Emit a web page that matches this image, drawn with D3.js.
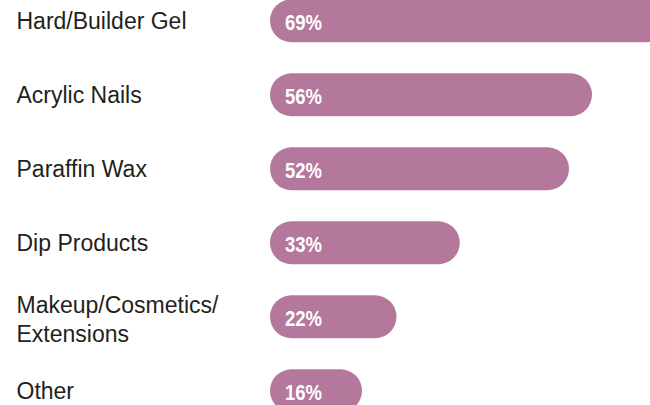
<!DOCTYPE html>
<html>
<head>
<meta charset="utf-8">
<script src="https://cdn.jsdelivr.net/npm/d3@7"></script>
<style>
  body { margin: 0; background: #fff; }
  svg { display: block; }
</style>
</head>
<body>
<svg id="chart"></svg>
<script>
// categories (label lines) and percentages
var categories = [
  ["Hard/Builder Gel"],
  ["Acrylic Nails"],
  ["Paraffin Wax"],
  ["Dip Products"],
  ["Makeup/Cosmetics/", "Extensions"],
  ["Other"]
];
var values = [69, 56, 52, 33, 22, 16];
var valueLabels = ["69%", "56%", "52%", "33%", "22%", "16%"];

function drawBars(width, height) {
  var svg = d3.select("#chart")
              .attr("width", width)
              .attr("height", height);

  var idx = d3.range(values.length);

  var y = d3.scaleBand()
            .domain(idx)
            .range([-0.7, 412.2])
            .paddingInner(0.42)
            .paddingOuter(0);

  var x = d3.scaleLinear()
            .domain([0, 100])
            .range([270, 845]);

  // bars, pill shaped
  svg.selectAll(".bar")
     .data(idx)
     .enter()
     .append("rect")
       .classed("bar", true)
       .attr("x", x(0))
       .attr("y", i => y(i))
       .attr("width", i => x(values[i]) - x(0))
       .attr("height", y.bandwidth())
       .attr("rx", y.bandwidth() / 2)
       .attr("fill", "#b4789d");

  // percent labels inside bars (squeezed to look condensed)
  svg.selectAll(".val")
     .data(idx)
     .enter()
     .append("text")
       .classed("val", true)
       .attr("transform", i => "translate(" + (x(0) + 15) + "," + (y(i) + y.bandwidth() / 2 + 9.6) + ") scale(0.84,1)")
       .attr("font-family", "'Liberation Sans', Arial, sans-serif")
       .attr("font-weight", "bold")
       .attr("font-size", "22px")
       .attr("fill", "#fff")
       .text(i => valueLabels[i]);

  // category labels on the left
  var lineH = 28.4;
  var cats = svg.selectAll(".cat")
     .data(idx)
     .enter()
     .append("text")
       .classed("cat", true)
       .attr("font-family", "'Liberation Sans', Arial, sans-serif")
       .attr("font-size", "23px")
       .attr("fill", "#231f20");

  cats.selectAll("tspan")
      .data(i => categories[i].map((t, k) => ({ i: i, k: k, n: categories[i].length, t: t })))
      .enter()
      .append("tspan")
        .attr("x", 16.5)
        .attr("y", d => y(d.i) + y.bandwidth() / 2 + 8.2 + (d.k - (d.n - 1) / 2) * lineH + (d.n > 1 ? 2.5 : 0))
        .text(d => d.t);
}

drawBars(650, 405);
</script>
</body>
</html>
